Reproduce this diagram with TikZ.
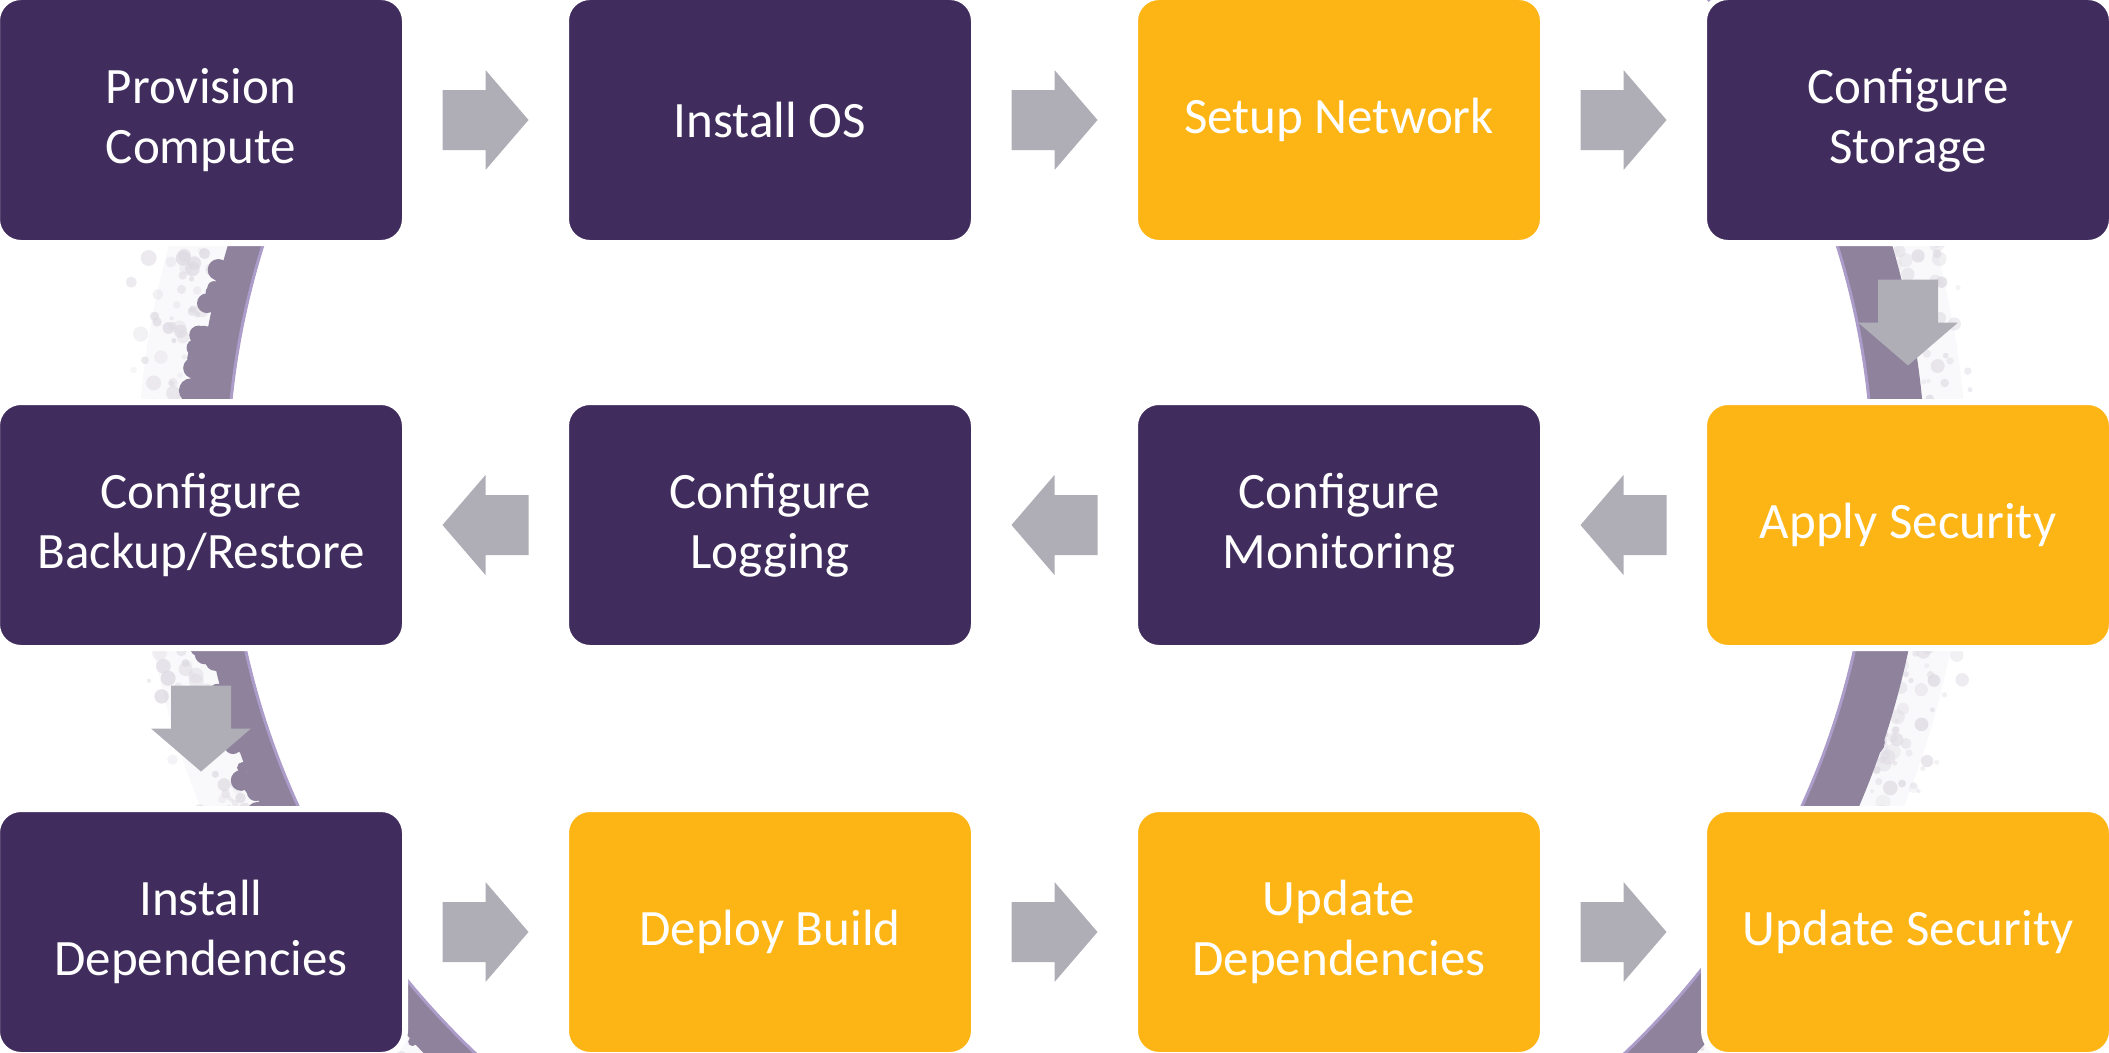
\documentclass[tikz,border=0pt]{standalone}
\usepackage{fontspec}
\setmainfont{Carlito}
\usetikzlibrary{calc}

\definecolor{plum}{HTML}{412D5D}
\definecolor{gold}{HTML}{FDB515}
\definecolor{arrowgrey}{HTML}{AFADB6}
\definecolor{ringband}{HTML}{8E829C}
\definecolor{ringedge}{HTML}{AB9CC9}
\definecolor{grunge}{HTML}{DCD9E1}

\begin{document}
\begin{tikzpicture}[x=1pt,y=-1pt,
  stepbox/.style={rectangle, rounded corners=24pt, minimum width=408pt,
    minimum height=246pt, draw=white, line width=6pt, text=white,
    align=center, inner sep=0pt, font=\fontsize{51}{60}\selectfont},
  darkbox/.style={stepbox, fill=plum},
  goldbox/.style={stepbox, fill=gold},
  flowarrow/.pic={\fill[arrowgrey] (-43,-30) -- (0,-30) -- (0,-50) -- (43,0)
    -- (0,50) -- (0,30) -- (-43,30) -- cycle;}
]
\useasboundingbox (0,0) rectangle (2109,1052);

% brushed ring behind the process steps
\begin{scope}
  \clip (0,0) rectangle (2109,1052);
  \fill[grunge, opacity=0.18, even odd rule]
    (1052,480) ellipse [x radius=915pt, y radius=892pt]
    (1050,480) ellipse [x radius=850pt, y radius=828pt];
  \pgfmathsetseed{4127}
  % light speckled texture outside the band
  \foreach \k in {1,...,1600}{
    \pgfmathsetmacro{\ang}{360*rnd}
    \pgfmathsetmacro{\off}{40+70*rnd*rnd+20*rnd}
    \pgfmathsetmacro{\rad}{2+6*rnd}
    \pgfmathsetmacro{\op}{0.25+0.5*rnd}
    \fill[grunge, opacity=\op]
      ({1050+(822+\off)*cos(\ang)}, {480+(800+\off)*sin(\ang)}) circle[radius=\rad pt];
  }
  % ragged outer edge of the band
  \foreach \k in {1,...,500}{
    \pgfmathsetmacro{\ang}{360*rnd}
    \pgfmathsetmacro{\off}{30+14*rnd}
    \pgfmathsetmacro{\rad}{4+9*rnd}
    \fill[ringband]
      ({1050+(822+\off)*cos(\ang)}, {480+(800+\off)*sin(\ang)}) circle[radius=\rad pt];
  }
  \fill[ringband, even odd rule]
    (1060,480) ellipse [x radius=866pt, y radius=845pt]
    (1050,480) ellipse [x radius=822pt, y radius=800pt];
  \draw[ringedge, line width=3pt] (1050,480) ellipse [x radius=823pt, y radius=801pt];
\end{scope}

% process steps
\node[darkbox] (b1)  at (201,120) {Provision\\Compute};
\node[darkbox] (b2)  at (770,120) {Install OS};
\node[goldbox] (b3)  at (1339,120) {Setup Network};
\node[darkbox] (b4)  at (1908,120) {Configure\\Storage};
\node[goldbox] (b5)  at (1908,525) {Apply Security};
\node[darkbox] (b6)  at (1339,525) {Configure\\Monitoring};
\node[darkbox] (b7)  at (770,525) {Configure\\Logging};
\node[darkbox] (b8)  at (201,525) {Configure\\Backup/Restore};
\node[darkbox] (b9)  at (201,932) {Install\\Dependencies};
\node[goldbox] (b10) at (770,932) {Deploy Build};
\node[goldbox] (b11) at (1339,932) {Update\\Dependencies};
\node[goldbox] (b12) at (1908,932) {Update Security};

% block arrows between consecutive steps
\pic at ($(b1.east)!0.5!(b2.west)$) {flowarrow};
\pic at ($(b2.east)!0.5!(b3.west)$) {flowarrow};
\pic at ($(b3.east)!0.5!(b4.west)$) {flowarrow};
\pic[rotate=-90] at ($(b4.south)!0.5!(b5.north)$) {flowarrow};
\pic[rotate=180] at ($(b5.west)!0.5!(b6.east)$) {flowarrow};
\pic[rotate=180] at ($(b6.west)!0.5!(b7.east)$) {flowarrow};
\pic[rotate=180] at ($(b7.west)!0.5!(b8.east)$) {flowarrow};
\pic[rotate=-90] at ($(b8.south)!0.5!(b9.north)$) {flowarrow};
\pic at ($(b9.east)!0.5!(b10.west)$) {flowarrow};
\pic at ($(b10.east)!0.5!(b11.west)$) {flowarrow};
\pic at ($(b11.east)!0.5!(b12.west)$) {flowarrow};
\end{tikzpicture}
\end{document}
